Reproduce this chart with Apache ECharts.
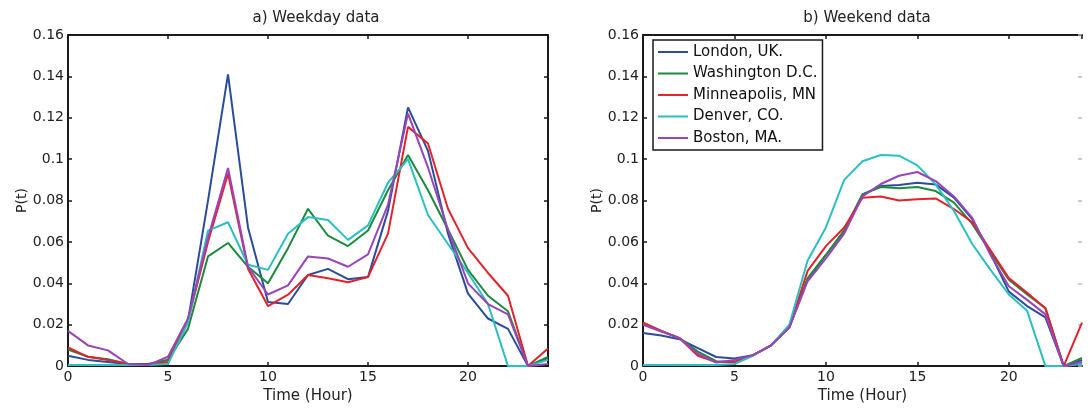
<!DOCTYPE html>
<html>
<head>
<meta charset="utf-8">
<script src="https://cdn.jsdelivr.net/npm/echarts@6/dist/echarts.min.js"></script>
<style>
html,body{margin:0;padding:0;background:#fff;}
#chart{width:1088px;height:409px;}
</style>
</head>
<body>
<div id="chart"></div>
<script>
// ---------- data ----------
const hours = [0,1,2,3,4,5,6,7,8,9,10,11,12,13,14,15,16,17,18,19,20,21,22,23,24];
const cityNames = ['London, UK.', 'Washington D.C.', 'Minneapolis, MN', 'Denver, CO.', 'Boston, MA.'];
const xTickInterval = 5;
const yTickInterval = 0.02;

// a) Weekday data
const londonWeekday      = [0.005,0.003,0.002,0.001,0.001,0.003,0.022,0.080,0.141,0.067,0.031,0.030,0.044,0.047,0.042,0.043,0.075,0.125,0.104,0.064,0.035,0.023,0.018,0.000,0.004];
const washingtonWeekday  = [0.008,0.0045,0.0033,0.001,0.0005,0.003,0.018,0.053,0.0595,0.048,0.040,0.057,0.076,0.063,0.058,0.0655,0.085,0.102,0.085,0.066,0.0465,0.034,0.0265,0.000,0.0045];
const minneapolisWeekday = [0.009,0.0045,0.003,0.001,0.0005,0.002,0.022,0.060,0.093,0.047,0.029,0.0345,0.044,0.0425,0.0405,0.043,0.064,0.1156,0.1076,0.076,0.057,0.045,0.034,0.000,0.0085];
const denverWeekday      = [0.0005,0.0005,0.0005,0.0005,0.0005,0.001,0.021,0.0655,0.0695,0.049,0.0465,0.064,0.072,0.0706,0.061,0.068,0.0886,0.100,0.073,0.059,0.045,0.030,0.000,0.000,0.003];
const bostonWeekday      = [0.017,0.010,0.0076,0.001,0.0005,0.0045,0.023,0.062,0.0957,0.048,0.0346,0.039,0.053,0.052,0.048,0.054,0.078,0.122,0.096,0.066,0.040,0.030,0.025,0.000,0.001];

// b) Weekend data
const londonWeekend      = [0.016,0.0148,0.013,0.0087,0.0044,0.0037,0.0052,0.010,0.0187,0.042,0.0537,0.0655,0.083,0.087,0.0875,0.0886,0.0878,0.0814,0.071,0.0544,0.036,0.029,0.0235,0.000,0.003];
const washingtonWeekend  = [0.021,0.017,0.0135,0.007,0.0024,0.002,0.0052,0.010,0.0187,0.0425,0.0537,0.0655,0.083,0.0865,0.086,0.0865,0.0846,0.079,0.0687,0.055,0.0417,0.0346,0.028,0.000,0.004];
const minneapolisWeekend = [0.021,0.017,0.0135,0.005,0.002,0.002,0.0052,0.010,0.0187,0.046,0.058,0.067,0.0814,0.082,0.080,0.0806,0.081,0.0759,0.0695,0.056,0.0425,0.0354,0.028,0.000,0.021];
const denverWeekend      = [0.0005,0.0005,0.0005,0.0005,0.0005,0.001,0.005,0.010,0.020,0.051,0.067,0.090,0.099,0.102,0.1017,0.097,0.0878,0.075,0.059,0.0465,0.0346,0.0267,0.000,0.000,0.001];
const bostonWeekend      = [0.020,0.0167,0.0135,0.006,0.0017,0.003,0.0052,0.010,0.0187,0.041,0.052,0.064,0.082,0.088,0.092,0.0938,0.0894,0.082,0.0716,0.0537,0.0386,0.032,0.025,0.000,0.002];

const weekdaySeries = [londonWeekday, washingtonWeekday, minneapolisWeekday, denverWeekday, bostonWeekday];
const weekendSeries = [londonWeekend, washingtonWeekend, minneapolisWeekend, denverWeekend, bostonWeekend];

// ---------- styles ----------
const colors = ['#2b4c9b', '#1c8a3c', '#e3232b', '#2bbfc2', '#9a44b9'];
const FONT = '"DejaVu Sans", "Liberation Sans", Arial, sans-serif';
const INK = '#1a1a1a';

function pairs(vals){ return hours.map((h,i)=>[h, vals[i]]); }

function xAxisBase(grid, pos, showLabels, showName){
  return {
    type:'value', gridIndex:grid, position:pos, min:0, max:24, interval:xTickInterval,
    axisLine:{show:true, onZero:false, lineStyle:{color:INK, width:2}},
    axisTick:{show:true, inside:true, length:4, lineStyle:{color:INK, width:1.5}},
    axisLabel:{show:showLabels, showMaxLabel:false, color:'#222', fontSize:14, fontFamily:FONT, margin:4},
    splitLine:{show:false},
    name: showName ? 'Time (Hour)' : '', nameLocation:'middle', nameGap:21,
    nameTextStyle:{color:'#222', fontSize:15, fontFamily:FONT}
  };
}
function yAxisBase(grid, pos, showLabels, showName, showLine){
  return {
    type:'value', gridIndex:grid, position:pos, min:0, max:0.16, interval:yTickInterval,
    axisLine:{show:showLine, onZero:false, lineStyle:{color:INK, width:2}},
    axisTick:{show:true, inside:true, length:4, lineStyle:{color: showLine ? INK : '#bbb', width:1.5}},
    axisLabel:{show:showLabels, color:'#222', fontSize:14, fontFamily:FONT, margin:4,
      formatter: v => String(+v.toFixed(2))},
    splitLine:{show:false},
    name: showName ? 'P(t)' : '', nameLocation:'middle', nameGap:37,
    nameTextStyle:{color:'#222', fontSize:14, fontFamily:FONT}
  };
}

const series = [];
cityNames.forEach((name,i)=>{
  series.push({name, type:'line', xAxisIndex:0, yAxisIndex:0, data:pairs(weekdaySeries[i]),
    symbol:'none', lineStyle:{color:colors[i], width:2}, itemStyle:{color:colors[i]}, z:2+i});
});
cityNames.forEach((name,i)=>{
  series.push({name, type:'line', xAxisIndex:1, yAxisIndex:2, data:pairs(weekendSeries[i]),
    symbol:'none', lineStyle:{color:colors[i], width:2}, itemStyle:{color:colors[i]}, z:2+i});
});

const option = {
  animation:false,
  backgroundColor:'#fff',
  grid:[
    {left:68, top:35, width:480, height:336},
    {left:643, top:35, width:439, height:336}
  ],
  xAxis:[
    xAxisBase(0,'bottom',true,true),
    xAxisBase(1,'bottom',true,true),
    xAxisBase(0,'top',false,false),
    xAxisBase(1,'top',false,false)
  ],
  yAxis:[
    yAxisBase(0,'left',true,true,true),
    yAxisBase(0,'right',false,false,true),
    yAxisBase(1,'left',true,true,true),
    yAxisBase(1,'right',false,false,false)
  ],
  legend:{
    data:cityNames, orient:'vertical', left:653, top:40,
    icon:'rect', itemWidth:30, itemHeight:2, itemGap:6.5,
    padding:[4.5,5,4.5,5],
    backgroundColor:'#fff', borderColor:INK, borderWidth:1.5, borderRadius:0,
    textStyle:{color:'#111', fontSize:15, fontFamily:FONT},
    z:20
  },
  graphic:[
    {type:'text', x:316, y:18, z:30,
      style:{text:'a) Weekday data', fill:'#222', fontSize:15, fontFamily:FONT,
        align:'center', verticalAlign:'middle', textAlign:'center', textVerticalAlign:'middle'}},
    {type:'text', x:867, y:18, z:30,
      style:{text:'b) Weekend data', fill:'#222', fontSize:15, fontFamily:FONT,
        align:'center', verticalAlign:'middle', textAlign:'center', textVerticalAlign:'middle'}}
  ],
  series
};

const chart = echarts.init(document.getElementById('chart'), null, {renderer:'canvas'});
chart.setOption(option);
</script>
</body>
</html>
